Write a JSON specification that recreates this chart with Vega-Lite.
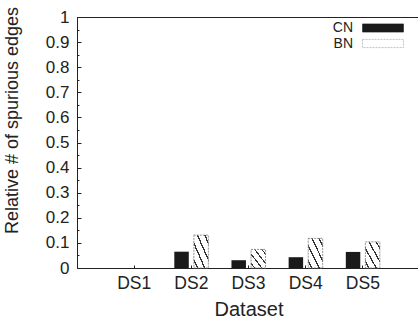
{
  "$schema": "https://vega.github.io/schema/vega-lite/v6.json",
  "autosize": "none",
  "width": 343,
  "height": 251,
  "padding": {"left": 77, "top": 17, "right": 0, "bottom": 56},
  "background": "white",
  "config": {
    "font": "Liberation Sans",
    "view": {"stroke": "#222", "strokeWidth": 1}
  },
  "data": {
    "values": [
      {"dataset": "DS1", "net": "CN", "value": 0},
      {"dataset": "DS1", "net": "BN", "value": 0},
      {"dataset": "DS2", "net": "CN", "value": 0.065},
      {"dataset": "DS2", "net": "BN", "value": 0.131},
      {"dataset": "DS3", "net": "CN", "value": 0.031},
      {"dataset": "DS3", "net": "BN", "value": 0.074},
      {"dataset": "DS4", "net": "CN", "value": 0.043},
      {"dataset": "DS4", "net": "BN", "value": 0.118},
      {"dataset": "DS5", "net": "CN", "value": 0.064},
      {"dataset": "DS5", "net": "BN", "value": 0.104}
    ]
  },
  "encoding": {
    "x": {
      "field": "dataset",
      "type": "nominal",
      "scale": {"paddingInner": 0, "paddingOuter": 0.5},
      "axis": {
        "title": "Dataset",
        "labelAngle": 0,
        "labelFontSize": 17.5,
        "labelColor": "#222",
        "labelPadding": 9,
        "tickSize": -3,
        "tickColor": "#222",
        "domainColor": "#222",
        "titleFontSize": 20,
        "titleFontWeight": "normal",
        "titleColor": "#222",
        "titlePadding": 8
      }
    },
    "y": {
      "field": "value",
      "type": "quantitative",
      "scale": {"domain": [0, 1], "nice": false},
      "axis": {
        "title": "Relative # of spurious edges",
        "values": [0, 0.05, 0.1, 0.15, 0.2, 0.25, 0.3, 0.35, 0.4, 0.45, 0.5, 0.55, 0.6, 0.65, 0.7, 0.75, 0.8, 0.85, 0.9, 0.95, 1],
        "labelExpr": "abs(datum.value*10 - round(datum.value*10)) < 0.01 ? format(datum.value, '~g') : ''",
        "tickSize": {"condition": {"test": "abs(datum.value*10 - round(datum.value*10)) < 0.01", "value": -4}, "value": -2},
        "grid": false,
        "labelFontSize": 17,
        "labelColor": "#222",
        "labelPadding": 12,
        "tickColor": "#222",
        "domainColor": "#222",
        "titleFontSize": 18,
        "titleFontWeight": "normal",
        "titleColor": "#222",
        "titlePadding": 24,
        "titleY": 103
      }
    },
    "xOffset": {
      "field": "net",
      "type": "nominal",
      "sort": ["CN", "BN"],
      "scale": {"domain": ["CN", "BN"], "paddingInner": 0.26, "paddingOuter": 0.59}
    }
  },
  "layer": [
    {
      "mark": {"type": "bar", "strokeWidth": 0},
      "encoding": {
        "fill": {
          "field": "net",
          "type": "nominal",
          "scale": {"domain": ["CN", "BN"], "range": ["#1a1a1a", "white"]},
          "legend": {
            "orient": "none",
            "legendX": 299,
            "legendY": 4,
            "padding": 0,
            "title": null,
            "symbolType": "M-5,-1H5V1H-5Z",
            "symbolSize": 67,
            "symbolStrokeWidth": 0,
            "symbolOpacity": 1,
            "labelAlign": "right",
            "labelOffset": -37,
            "labelFontSize": 14,
            "labelColor": "#222",
            "rowPadding": 1.5,
            "encode": {
              "symbols": {
                "update": {
                  "fill": [
                    {
                      "test": "datum.value === 'BN'",
                      "value": {
                        "gradient": "linear",
                        "x1": 0, "y1": 0.6, "x2": 1, "y2": 0.4,
                        "stops": [
                          {"offset": 0, "color": "white"},
                          {"offset": 0.08, "color": "white"},
                          {"offset": 0.08, "color": "#333"},
                          {"offset": 0.125, "color": "#333"},
                          {"offset": 0.125, "color": "white"},
                          {"offset": 0.28, "color": "white"},
                          {"offset": 0.28, "color": "#333"},
                          {"offset": 0.325, "color": "#333"},
                          {"offset": 0.325, "color": "white"},
                          {"offset": 0.48, "color": "white"},
                          {"offset": 0.48, "color": "#333"},
                          {"offset": 0.525, "color": "#333"},
                          {"offset": 0.525, "color": "white"},
                          {"offset": 0.68, "color": "white"},
                          {"offset": 0.68, "color": "#333"},
                          {"offset": 0.725, "color": "#333"},
                          {"offset": 0.725, "color": "white"},
                          {"offset": 0.88, "color": "white"},
                          {"offset": 0.88, "color": "#333"},
                          {"offset": 0.925, "color": "#333"},
                          {"offset": 0.925, "color": "white"},
                          {"offset": 1, "color": "white"}
                        ]
                      }
                    },
                    {"value": "#1a1a1a"}
                  ],
                  "stroke": [
                    {"test": "datum.value === 'BN'", "value": "#999"},
                    {"value": "#1a1a1a"}
                  ],
                  "strokeWidth": {"value": 0.6},
                  "strokeDash": [
                    {"test": "datum.value === 'BN'", "value": [2, 1]},
                    {"value": []}
                  ]
                }
              }
            }
          }
        }
      }
    },
    {
      "transform": [{"filter": "datum.net === 'BN' && datum.value > 0"}],
      "mark": {
        "type": "bar",
        "stroke": "#777",
        "strokeWidth": 0.8,
        "strokeDash": [2, 1],
        "fill": {
          "gradient": "linear",
          "x1": 0, "y1": 1, "x2": 1, "y2": 0,
          "stops": [
            {"offset": 0, "color": "white"},
            {"offset": 0.1, "color": "white"},
            {"offset": 0.1, "color": "#333"},
            {"offset": 0.15, "color": "#333"},
            {"offset": 0.15, "color": "white"},
            {"offset": 0.35, "color": "white"},
            {"offset": 0.35, "color": "#333"},
            {"offset": 0.4, "color": "#333"},
            {"offset": 0.4, "color": "white"},
            {"offset": 0.6, "color": "white"},
            {"offset": 0.6, "color": "#333"},
            {"offset": 0.65, "color": "#333"},
            {"offset": 0.65, "color": "white"},
            {"offset": 0.85, "color": "white"},
            {"offset": 0.85, "color": "#333"},
            {"offset": 0.9, "color": "#333"},
            {"offset": 0.9, "color": "white"},
            {"offset": 1, "color": "white"}
          ]
        }
      },
      "encoding": {}
    }
  ]
}
